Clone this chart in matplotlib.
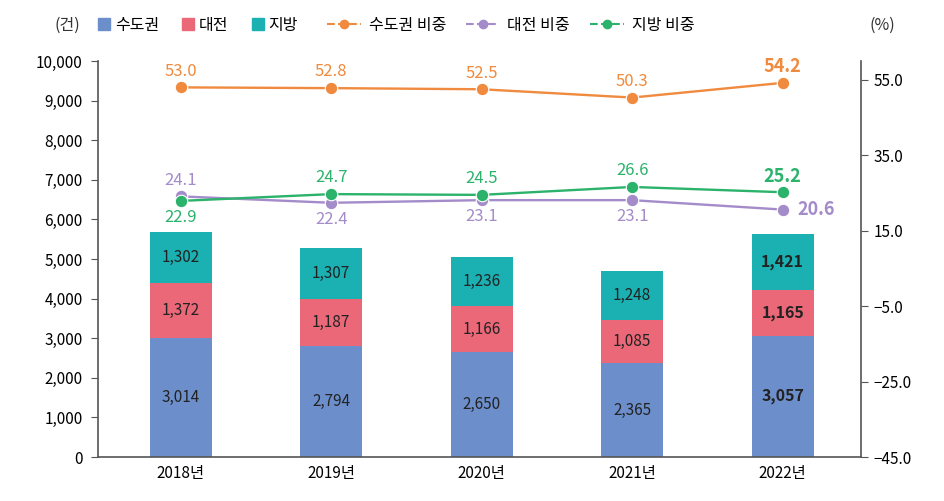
import numpy as np
import matplotlib
matplotlib.use('Agg')
import matplotlib.pyplot as plt
from matplotlib.lines import Line2D

plt.rcParams['font.family'] = ['Noto Sans CJK KR', 'DejaVu Sans']

# data
years = ['2018년', '2019년', '2020년', '2021년', '2022년']
capital = [3014, 2794, 2650, 2365, 3057]
daejeon = [1372, 1187, 1166, 1085, 1165]
local = [1302, 1307, 1236, 1248, 1421]
capital_pct = [53.0, 52.8, 52.5, 50.3, 54.2]
daejeon_pct = [24.1, 22.4, 23.1, 23.1, 20.6]
local_pct = [22.9, 24.7, 24.5, 26.6, 25.2]

c_blue = '#6c8fcc'
c_red = '#ea6877'
c_teal = '#1bb0b2'
c_orange = '#f08a3e'
c_purple = '#a48bc9'
c_green = '#2bb26b'
c_axis = '#555555'

fig = plt.figure(figsize=(9.44, 5.01), dpi=100)
ax = fig.add_axes([0.1038, 0.0878, 0.8082, 0.7905])
ax2 = ax.twinx()

x = np.arange(len(years))
w = 0.41
ax.bar(x, capital, w, color=c_blue)
ax.bar(x, daejeon, w, bottom=capital, color=c_red)
bottom3 = np.array(capital) + np.array(daejeon)
ax.bar(x, local, w, bottom=bottom3, color=c_teal)

# bar labels
for i in range(len(years)):
    last = i == len(years) - 1
    bold = 'bold' if last else 'normal'
    fs = 11.5 if last else 11
    ax.text(x[i], capital[i] / 2, f'{capital[i]:,}', ha='center', va='center',
            fontsize=fs, color='#222222', fontweight=bold)
    ax.text(x[i], capital[i] + daejeon[i] / 2, f'{daejeon[i]:,}', ha='center',
            va='center', fontsize=fs, color='#222222', fontweight=bold)
    ax.text(x[i], bottom3[i] + local[i] / 2, f'{local[i]:,}', ha='center',
            va='center', fontsize=fs, color='#222222', fontweight=bold)

ax.set_xlim(-0.55, 4.52)
ax.set_ylim(0, 10000)
ax.set_yticks(range(0, 10001, 1000))
ax.set_yticklabels([f'{v:,}' for v in range(0, 10001, 1000)])
ax.set_xticks(x)
ax.set_xticklabels(years)
ax.tick_params(axis='x', length=0, labelsize=11, pad=6)
ax.tick_params(axis='y', length=5, labelsize=11, color=c_axis, pad=6)

# lines on right axis
for vals, col in ((capital_pct, c_orange), (daejeon_pct, c_purple), (local_pct, c_green)):
    ax2.plot(x, vals, color=col, lw=1.7, marker='o', ms=9, mec='white', mew=0.8, zorder=3)
ax2.set_ylim(-45, 60)
ax2.set_yticks([-45, -25, -5, 15, 35, 55])
ax2.set_yticklabels(['−45.0', '−25.0', '−5.0', '15.0', '35.0', '55.0'])
ax2.tick_params(axis='y', length=5, labelsize=11, color=c_axis, pad=4)

off = 4.3
daejeon_pos = ['above', 'below', 'below', 'below', 'right']
local_pos = ['below', 'above', 'above', 'above', 'above']
for i in range(len(years)):
    last = i == len(years) - 1
    fw = 'bold' if last else 'normal'
    fs = 13 if last else 12
    ax2.text(x[i], capital_pct[i] + off, f'{capital_pct[i]:.1f}', ha='center', va='center',
             color=c_orange, fontsize=fs, fontweight=fw)
    p = daejeon_pos[i]
    if p == 'above':
        ax2.text(x[i], daejeon_pct[i] + off, f'{daejeon_pct[i]:.1f}', ha='center', va='center',
                 color=c_purple, fontsize=fs, fontweight=fw)
    elif p == 'below':
        ax2.text(x[i], daejeon_pct[i] - off, f'{daejeon_pct[i]:.1f}', ha='center', va='center',
                 color=c_purple, fontsize=fs, fontweight=fw)
    else:
        ax2.text(x[i] + 0.1, daejeon_pct[i], f'{daejeon_pct[i]:.1f}', ha='left', va='center',
                 color=c_purple, fontsize=fs, fontweight=fw)
    dy = off if local_pos[i] == 'above' else -off
    ax2.text(x[i], local_pct[i] + dy, f'{local_pct[i]:.1f}', ha='center', va='center',
             color=c_green, fontsize=fs, fontweight=fw)

for a in (ax, ax2):
    a.spines['top'].set_visible(False)
    for s in ('left', 'right', 'bottom'):
        a.spines[s].set_color(c_axis)
        a.spines[s].set_linewidth(1.2)
ax.spines['right'].set_visible(False)
ax2.spines['left'].set_visible(False)
ax2.spines['bottom'].set_visible(False)

# legend: bars and lines separately so the handle lengths differ
bar_handles = [
    Line2D([], [], color=c_blue, ls='none', marker='s', ms=9, label='수도권'),
    Line2D([], [], color=c_red, ls='none', marker='s', ms=9, label='대전'),
    Line2D([], [], color=c_teal, ls='none', marker='s', ms=9, label='지방'),
]
line_handles = [
    Line2D([], [], color=c_orange, lw=1.5, ls='--', marker='o', ms=6, label='수도권 비중'),
    Line2D([], [], color=c_purple, lw=1.5, ls='--', marker='o', ms=6, label='대전 비중'),
    Line2D([], [], color=c_green, lw=1.5, ls='--', marker='o', ms=6, label='지방 비중'),
]
leg_y = 0.949
fig.legend(handles=bar_handles, loc='center left', bbox_to_anchor=(0.1038, leg_y), ncol=3,
           frameon=False, fontsize=11.5, handlelength=0.75, handletextpad=0.3,
           columnspacing=1.45, borderpad=0, borderaxespad=0)
fig.legend(handles=line_handles, loc='center left', bbox_to_anchor=(0.3464, leg_y), ncol=3,
           frameon=False, fontsize=11.5, handlelength=2.1, handletextpad=0.5,
           columnspacing=1.25, borderpad=0, borderaxespad=0)
fig.text(0.058, leg_y, '(건)', ha='left', va='center', fontsize=11.5, color='#333333')
fig.text(0.921, leg_y, '(%)', ha='left', va='center', fontsize=11.5, color='#333333')

fig.savefig('out.png', dpi=100)
